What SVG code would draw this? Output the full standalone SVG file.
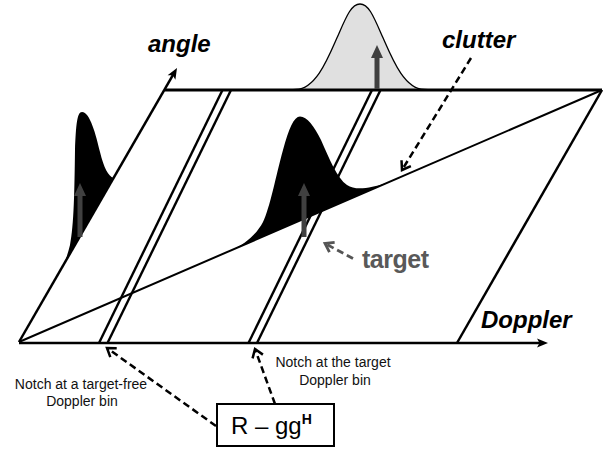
<svg xmlns="http://www.w3.org/2000/svg" width="614" height="452" viewBox="0 0 614 452">
<style>
.ln{fill:none;stroke:#000;stroke-width:2.5}
.nt{fill:none;stroke:#000;stroke-width:2.4}
.ax{font-family:"Liberation Sans",Arial,sans-serif;font-size:24px;font-weight:bold;font-style:italic;fill:#000}
.sm{font-family:"Liberation Sans",Arial,sans-serif;font-size:14px;fill:#111;text-anchor:middle}
.dash{fill:none;stroke:#000;stroke-width:2.5;stroke-dasharray:7 4}
.blk{fill:#000;stroke:none}
.gar{fill:#404040;stroke:none}
</style>
<defs>
<marker id="ah" markerUnits="userSpaceOnUse" markerWidth="12" markerHeight="10" refX="3" refY="5" orient="auto" overflow="visible">
<path d="M0,0.5 L11,5 L0,9.5 L2.5,5 Z" fill="#000"/>
</marker>
<marker id="vh" markerUnits="userSpaceOnUse" markerWidth="14" markerHeight="14" refX="11" refY="7" orient="auto" overflow="visible">
<path d="M3,1.5 L11,7 L3,12.5" fill="none" stroke="#000" stroke-width="2.5"/>
</marker>
<marker id="vg" markerUnits="userSpaceOnUse" markerWidth="14" markerHeight="14" refX="11" refY="7" orient="auto" overflow="visible">
<path d="M3,1.5 L11,7 L3,12.5" fill="none" stroke="#555" stroke-width="2.8"/>
</marker>
</defs>
<rect width="614" height="452" fill="#fff"/>

<g id="clutter-peak">
<path d="M290,90 L296,89.5 C316,89 328,58.2 337,37.8 C346,17.4 351,4 360,4 C369,4 374,17.4 383,37.8 C392,58.2 404,89 424,89.5 L432,90 Z" fill="#e0e0e0" stroke="#000" stroke-width="1.3"/>
</g>

<g id="plane">
<line class="ln" x1="164.5" y1="90" x2="602" y2="90" style="stroke-width:3"/>
<line class="ln" x1="457" y1="343" x2="602" y2="90"/>
</g>

<g id="notch-free">
<line class="nt" x1="99" y1="343" x2="222.5" y2="90"/>
<line class="nt" x1="107.5" y1="343" x2="231" y2="90"/>
</g>
<g id="notch-target">
<line class="nt" x1="248.5" y1="343" x2="372" y2="90"/>
<line class="nt" x1="257" y1="343" x2="380.5" y2="90"/>
</g>

<g id="clutter-ridge">
<line x1="19" y1="342" x2="602" y2="90" stroke="#000" stroke-width="2"/>
</g>

<g id="axes">
<line class="ln" x1="19" y1="343" x2="540" y2="343" marker-end="url(#ah)"/>
<line class="ln" x1="19" y1="342" x2="173" y2="74.9" marker-end="url(#ah)"/>
</g>

<g id="left-peak">
<path class="blk" d="M113.6,178 C108,176 104,168 100,152 C96,135 90,112 82,112 C77,112 76,125 75,150 C74.5,190 74,225 70,245 C68,253 66,259 64.6,263 Z"/>
<path class="gar" d="M80,183 L86,196 L82.5,196 L82.5,237 L77.5,237 L77.5,196 L74,196 Z"/>
</g>

<g id="target-peak">
<path class="blk" d="M230,250.8 C245,244.5 256,235 263,222 C270,208 276,175 283,150 C289,128 294,116.5 300,116.5 C307,116.5 314,126 321,140 C330,160 337,178 347,185 C356,191 370,188 387,182.9 Z"/>
<path class="gar" d="M304,183 L310,196 L306.5,196 L306.5,237 L301.5,237 L301.5,196 L298,196 Z"/>
</g>

<g id="clutter-arrow">
<path class="gar" d="M377,45 L383,58 L379.5,58 L379.5,89 L374.5,89 L374.5,58 L371,58 Z"/>
</g>

<g id="connectors">
<line class="dash" x1="471" y1="58" x2="402" y2="170" marker-end="url(#vh)"/>
<line x1="353" y1="258.5" x2="325" y2="243.5" fill="none" stroke="#555" stroke-width="2.8" stroke-dasharray="7 4" marker-end="url(#vg)"/>
<line class="dash" x1="216" y1="426" x2="107" y2="348" marker-end="url(#vh)"/>
<line class="dash" x1="275" y1="404" x2="255" y2="349" marker-end="url(#vh)"/>
</g>

<g id="labels">
<text class="ax" x="148" y="52">angle</text>
<text class="ax" x="442" y="48">clutter</text>
<text class="ax" x="481" y="328">Doppler</text>
<text x="362" y="268" font-family="'Liberation Sans',Arial,sans-serif" font-size="25" font-weight="bold" letter-spacing="-0.5" fill="#595959">target</text>
<text class="sm" x="81" y="389">Notch at a target-free</text>
<text class="sm" x="82" y="406">Doppler bin</text>
<text class="sm" x="333" y="367">Notch at the target</text>
<text class="sm" x="335" y="385">Doppler bin</text>
</g>

<g id="box">
<rect x="217" y="404" width="117" height="42" fill="#fff" stroke="#000" stroke-width="2"/>
<text x="231" y="434" font-family="'Liberation Sans',Arial,sans-serif" font-size="24" fill="#000">R – gg<tspan font-size="14" font-weight="bold" dy="-10">H</tspan></text>
</g>
</svg>
